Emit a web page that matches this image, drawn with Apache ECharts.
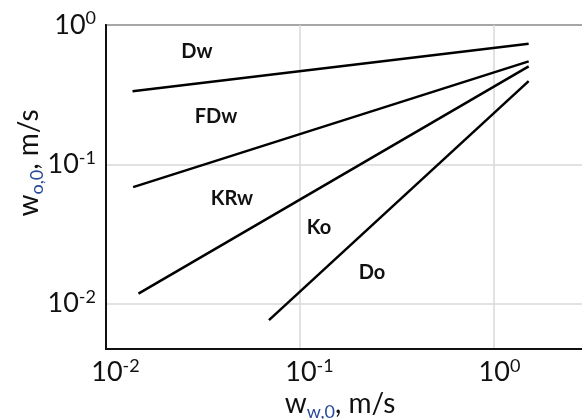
<!DOCTYPE html>
<html>
<head>
<meta charset="utf-8">
<script src="https://cdn.jsdelivr.net/npm/echarts@6/dist/echarts.min.js"></script>
<style>
  html, body { margin: 0; padding: 0; background: #fff; }
  #chart { width: 582px; height: 419px; }
</style>
</head>
<body>
<div id="chart"></div>
<script>
// Flow-regime boundaries: straight lines on log-log axes, [w_w0, w_o0] end points
const boundaryNames = ['Dw', 'FDw', 'KRw', 'Do'];
const boundaryDw  = [[0.0137, 0.334], [1.51, 0.733]];
const boundaryFDw = [[0.0138, 0.0685], [1.51, 0.548]];
const boundaryKRw = [[0.0147, 0.0118], [1.51, 0.504]];
const boundaryDo  = [[0.0692, 0.0076], [1.51, 0.395]];

// Regime names written inside the map
const regimeLabels = ['Dw', 'FDw', 'KRw', 'Ko', 'Do'];

// Axis extents (m/s)
const xMin = 0.01, xMax = 4.06;
const yMin = 0.00472, yMax = 1;

const boundaries = [boundaryDw, boundaryFDw, boundaryKRw, boundaryDo];

const FONT = 'Lato, "Open Sans", sans-serif';

function powerLabel(v, padX) {
  const e = Math.log10(v);
  const r = Math.round(e);
  if (Math.abs(e - r) > 1e-6) return '';
  const pad = padX ? (r < 0 ? '{pn| }' : '{p0| }') : '';
  return pad + '{b|10}{s|' + r + '}';
}

const tickRich = {
  b: { fontSize: 27, fontFamily: FONT, color: '#111' },
  s: { fontSize: 18, fontFamily: FONT, color: '#111', padding: [0, 0, 13, 0] },
  pn: { width: 19 },
  p0: { width: 11 }
};

const chart = echarts.init(document.getElementById('chart'), null, { renderer: 'canvas' });

// label anchor points in pixels (centres of the region names)
const labelPos = [[197, 52], [216, 117], [232, 199], [319, 228], [372, 273]];

const titleRich = {
  a: { fontSize: 28, fontFamily: FONT, fill: '#111' },
  sub: { fontSize: 18, fontFamily: FONT, fill: '#2a4a9a', padding: [16, 0, 0, 0] }
};

chart.setOption({
  animation: false,
  backgroundColor: '#fff',
  grid: {
    left: 106, top: 25, bottom: 70, right: -30,
    show: true, borderColor: '#111', borderWidth: 2,
    outerBoundsMode: 'none'
  },
  xAxis: {
    type: 'log', logBase: 10, min: xMin, max: xMax,
    axisLine: { show: true, lineStyle: { color: '#111', width: 2 } },
    axisTick: { show: false },
    minorTick: { show: false },
    splitLine: { show: true, lineStyle: { color: '#d9d9d9', width: 1.5 } },
    axisLabel: {
      margin: 8,
      formatter: v => powerLabel(v, true),
      rich: tickRich
    }
  },
  yAxis: {
    type: 'log', logBase: 10, min: yMin, max: yMax,
    axisLine: { show: true, lineStyle: { color: '#111', width: 2 } },
    axisTick: { show: false },
    splitLine: { show: true, lineStyle: { color: '#d9d9d9', width: 1.5 } },
    axisLabel: {
      margin: 10,
      formatter: v => powerLabel(v, false),
      rich: tickRich
    }
  },
  series: boundaries.map((pts, i) => ({
    name: boundaryNames[i],
    type: 'line',
    data: pts,
    symbol: 'none',
    lineStyle: { color: '#000', width: 2.5 },
    silent: true
  })),
  graphic: [
    ...regimeLabels.map((t, i) => ({
      type: 'text',
      x: labelPos[i][0], y: labelPos[i][1],
      style: {
        text: t, font: 'bold 20px ' + FONT, fill: '#111',
        align: 'center', verticalAlign: 'middle'
      }
    })),
    {
      type: 'text',
      x: 29, y: 163, rotation: Math.PI / 2,
      style: {
        text: '{a|w}{sub|o,0}{a|, m/s}',
        align: 'center', verticalAlign: 'middle',
        rich: titleRich
      }
    },
    {
      type: 'text',
      x: 340, y: 404,
      style: {
        text: '{a|w}{sub|w,0}{a|, m/s}',
        align: 'center', verticalAlign: 'middle',
        rich: titleRich
      }
    }
  ]
});
</script>
</body>
</html>
